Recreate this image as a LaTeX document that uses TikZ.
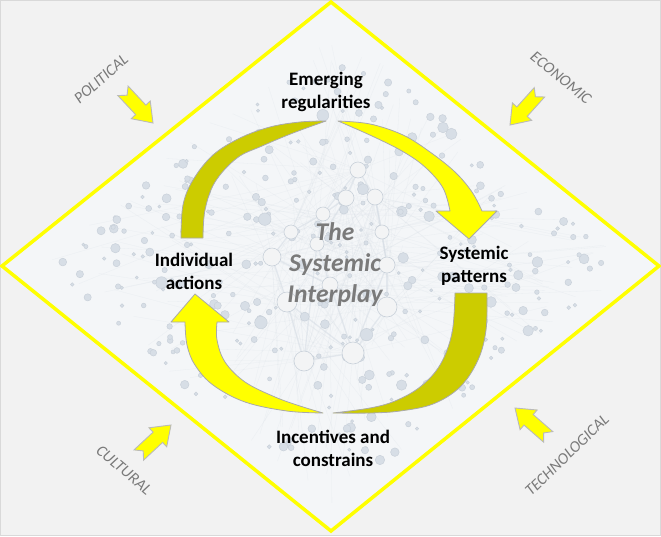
\documentclass[tikz,border=0pt]{standalone}
\usepackage{fontspec}
\setmainfont{Carlito}
\definecolor{bgout}{HTML}{F2F2F2}
\definecolor{bgin}{HTML}{F4F6F8}
\definecolor{ylw}{HTML}{FFFF00}
\definecolor{olv}{HTML}{CCCC00}
\definecolor{dotfill}{HTML}{D7DEE6}
\definecolor{dotline}{HTML}{C9D1DA}
\definecolor{netline}{HTML}{D5DCE4}
\definecolor{hubfill}{HTML}{F3F4F5}
\definecolor{labelgray}{HTML}{7A7A7A}
\definecolor{outl}{HTML}{A9A9A9}
\tikzset{
  mainlbl/.style={font=\fontsize{19}{23}\selectfont\bfseries, align=center, text=black, inner sep=0pt},
  centerlbl/.style={font=\fontsize{25.5}{31}\selectfont\bfseries\itshape, align=center, text=labelgray, inner sep=0pt},
  sidelbl/.style={font=\fontsize{16}{19}\selectfont\itshape, text=labelgray, inner sep=0pt},
  bandbright/.style={fill=ylw, draw=outl, line width=0.8pt, line join=round},
  banddark/.style={fill=olv, draw=outl, line width=0.8pt, line join=round},
  sarrowstyle/.style={fill=ylw, draw=outl!80, line width=0.9pt, line join=miter},
  smallarrow/.pic={\path[sarrowstyle] (0,0) -- (-18,13) -- (-18,7) -- (-44,7) -- (-38,0) -- (-44,-7) -- (-18,-7) -- (-18,-13) -- cycle;},
  dot/.style={fill=dotfill, draw=dotline, line width=0.5pt},
  hub/.style={fill=hubfill, draw=dotline, line width=0.6pt}
}
\begin{document}
\begin{tikzpicture}[x=1pt,y=-1pt]
\useasboundingbox (0,0) rectangle (661,536);
\fill[bgout] (0,0) rectangle (661,536);
\draw[black!15, line width=1pt] (0.5,0.5) rectangle (660.5,535.5);
% diamond corners
\coordinate (dT) at (331,2);
\coordinate (dR) at (659,266);
\coordinate (dB) at (331,531);
\coordinate (dL) at (2,266);
\fill[bgin] (dT) -- (dR) -- (dB) -- (dL) -- cycle;
% network hubs
\coordinate (h1) at (358,170);
\coordinate (h2) at (346,198);
\coordinate (h3) at (375,197);
\coordinate (h4) at (323,214);
\coordinate (h5) at (291,232);
\coordinate (h6) at (317,244);
\coordinate (h7) at (272,257);
\coordinate (h8) at (382,232);
\coordinate (h9) at (387,265);
\coordinate (h10) at (330,285);
\coordinate (h11) at (287,302);
\coordinate (h12) at (387,307);
\coordinate (h13) at (304,361);
\coordinate (h14) at (353,353);
\begin{scope}
\clip (dT) -- (dR) -- (dB) -- (dL) -- cycle;
\pgfmathsetseed{4242}
\foreach \i in {1,...,240}{
  \pgfmathsetmacro\s{0.04+0.92*rnd}
  \pgfmathsetmacro\t{0.04+0.92*rnd}
  \pgfmathsetmacro\px{331+328*(\s-\t)}
  \pgfmathsetmacro\py{2+264*(\s+\t)}
  \pgfmathrandominteger{\k}{1}{14}
  \draw[netline, line width=0.3pt, opacity=0.3] (h\k) -- (\px,\py);
}
\foreach \a/\b in {1/2,1/3,2/4,3/8,4/5,4/6,5/7,6/10,7/11,8/9,9/12,10/11,10/12,11/13,12/14,13/14,10/14,6/13,2/6,3/9,1/4,11/14,7/10,9/14}{
  \draw[netline, line width=1.3pt, opacity=0.55] (h\a) -- (h\b);
}
\pgfmathsetseed{777}
\foreach \i in {1,...,380}{
  \pgfmathsetmacro\s{0.05+0.90*rnd}
  \pgfmathsetmacro\t{0.05+0.90*rnd}
  \pgfmathsetmacro\px{331+328*(\s-\t)}
  \pgfmathsetmacro\py{2+264*(\s+\t)}
  \pgfmathsetmacro\r{(abs(\py-266)<200)*(1.5+5.5*rnd*rnd)}
  \ifdim\r pt>0.5pt
    \path[dot] (\px,\py) circle[radius=\r];
  \fi
}
\foreach \h/\r in {1/8,2/8,3/8,4/7,5/7,6/7,7/9,8/7,9/8,10/8,11/10,12/10,13/10,14/11}{
  \path[hub] (h\h) circle[radius=\r];
}
\end{scope}
\draw[ylw, line width=3.5pt, line join=miter] (dT) -- (dR) -- (dB) -- (dL) -- cycle;
% small inflow arrows
\pic[rotate=-47] at (153,123) {smallarrow};
\pic[rotate=-132] at (510,125) {smallarrow};
\pic[rotate=43] at (171,425) {smallarrow};
\pic[rotate=139] at (515,408) {smallarrow};
% upper curved arrow: dark part
\path[banddark] plot[smooth, tension=0.6] coordinates {(181,238) (183,205) (193,180) (213,155) (240,138) (270,127) (300,122) (326,121)}
  -- plot[smooth, tension=0.6] coordinates {(326,121) (293,133) (262,146) (237,158) (215,182) (205,210) (203,238)} -- cycle;
% upper curved arrow: bright part with head
\path[bandbright] plot[smooth, tension=0.6] coordinates {(338,121) (370,124) (403,135) (430,152) (455,172) (472,192) (482,211)}
  -- (497,211) -- (469,239) -- (436,211) -- (450,211)
  -- plot[smooth, tension=0.6] coordinates {(450,211) (443,188) (425,167) (402,151) (372,136) (338,121)} -- cycle;
% lower curved arrow: dark part
\path[banddark] (455,293) -- (487,293)
  -- plot[smooth, tension=0.6] coordinates {(487,293) (486,330) (478,360) (460,387) (433,404) (400,411) (370,413) (333,413)}
  -- plot[smooth, tension=0.6] coordinates {(333,413) (370,408) (395,401) (420,387) (440,365) (452,333) (455,293)} -- cycle;
% lower curved arrow: bright part with head
\path[bandbright] plot[smooth, tension=0.6] coordinates {(185,322) (187,345) (195,365) (213,385) (245,402) (287,411) (323,413)}
  -- plot[smooth, tension=0.6] coordinates {(323,413) (300,406) (275,397) (245,382) (225,362) (217,340) (217,322)}
  -- (229,322) -- (195,294) -- (171,322) -- cycle;
% labels
\node[mainlbl] (emerging) at (326,91.5) {Emerging\\regularities};
\node[mainlbl] (individual) at (194,271.5) {Individual\\actions};
\node[mainlbl] (systemic) at (474,265.5) {Systemic\\patterns};
\node[mainlbl] (incentives) at (333,448.5) {Incentives and\\constrains};
\node[centerlbl] (interplay) at (335,264.5) {The\\Systemic\\Interplay};
\node[sidelbl, rotate=41] (political) at (101,79) {POLITICAL};
\node[sidelbl, rotate=-39] (economic) at (561,78) {ECONOMIC};
\node[sidelbl, rotate=-40] (cultural) at (124,470) {CULTURAL};
\node[sidelbl, rotate=44] (technological) at (567,455) {TECHNOLOGICAL};
\end{tikzpicture}
\end{document}
